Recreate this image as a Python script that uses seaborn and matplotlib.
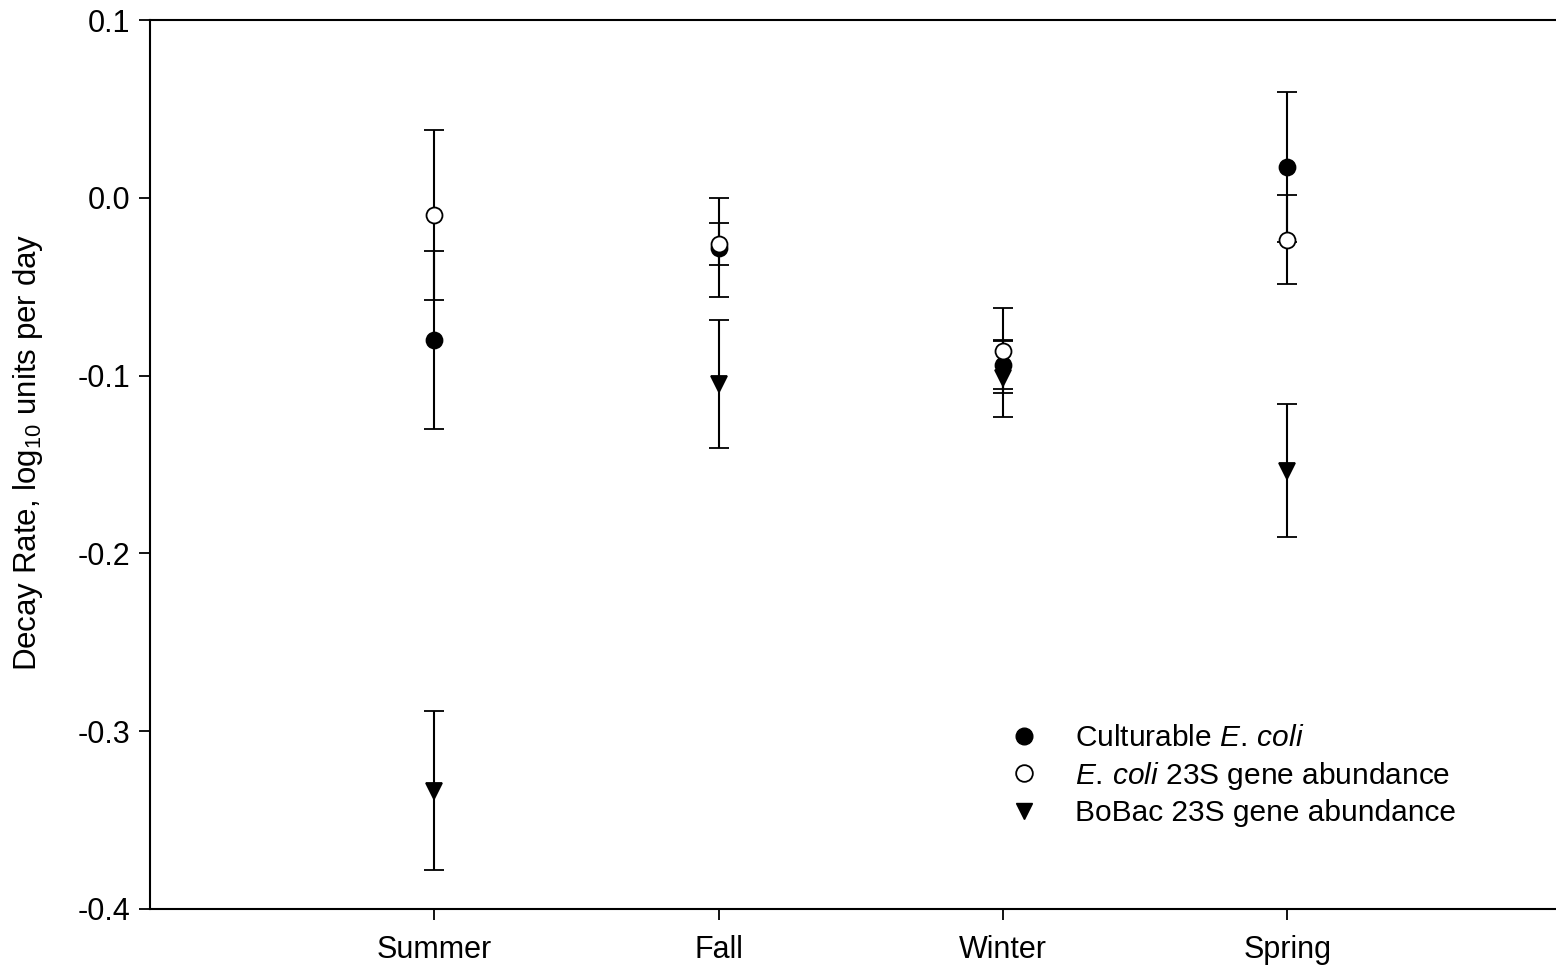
import numpy as np
import pandas as pd
import matplotlib
matplotlib.use("Agg")
import matplotlib.pyplot as plt
from matplotlib.lines import Line2D
import seaborn as sns

# Dados (taxa de decaimento, log10 por dia)
estacoes = ["Summer", "Fall", "Winter", "Spring"]

culturable = [-0.080, -0.028, -0.094, 0.0173]
culturable_err = [0.050, 0.028, 0.0135, 0.042]

ecoli_23s = [-0.0096, -0.026, -0.086, -0.0236]
ecoli_23s_err = [0.048, 0.012, 0.024, 0.025]

bobac_23s = [-0.3335, -0.1045, -0.1015, -0.1535]
bobac_23s_err = [0.0447, 0.036, 0.0218, 0.0374]

sns.set_style("ticks")
plt.rcParams["font.family"] = ["Liberation Sans", "DejaVu Sans"]
plt.rcParams["mathtext.fontset"] = "custom"
plt.rcParams["mathtext.rm"] = "Liberation Sans"
plt.rcParams["mathtext.it"] = "Liberation Sans:italic"
plt.rcParams["axes.unicode_minus"] = False
plt.rcParams["text.color"] = "black"
plt.rcParams["axes.labelcolor"] = "black"

fig = plt.figure(figsize=(15.56, 9.69), dpi=100)
ax = fig.add_axes([150 / 1556, 1 - 909 / 969, 1 - 150 / 1556, (909 - 20) / 969])

x = np.arange(1, len(estacoes) + 1)

series = [
    (culturable, culturable_err, "o", "black", r"Culturable $\mathit{E.\,coli}$"),
    (ecoli_23s, ecoli_23s_err, "o", "white", r"$\mathit{E.\,coli}$ 23S gene abundance"),
    (bobac_23s, bobac_23s_err, "v", "black", "BoBac 23S gene abundance"),
]

for vals, errs, mk, face, label in series:
    ax.errorbar(x, vals, yerr=errs, fmt=mk, ms=11.5, mfc=face, mec="black",
                mew=1.3, ecolor="black", elinewidth=1.5, capsize=7, capthick=1.5,
                label=label)

ax.set_xlim(0, 4.945)
ax.set_ylim(-0.4, 0.1)
ax.set_xticks(x)
ax.set_xticklabels(estacoes)
yt = [-0.4, -0.3, -0.2, -0.1, 0.0, 0.1]
ax.set_yticks(yt)
ax.set_yticklabels(["%.1f" % v for v in yt])
ax.tick_params(axis="both", labelsize=22, length=8, width=1.3, direction="out",
               colors="black", pad=11)
ax.tick_params(axis="y", pad=6)

ax.set_ylabel(r"Decay Rate, log$_{10}$ units per day", fontsize=22.5)
ax.yaxis.set_label_coords(-0.075, 0.5135)

sns.despine(ax=ax, top=False, right=True)
for s in ["left", "bottom", "top"]:
    ax.spines[s].set_linewidth(1.5)
    ax.spines[s].set_color("black")

handles, labels = ax.get_legend_handles_labels()
leg_handles = [
    Line2D([], [], ls="none", marker="o", ms=12, mfc="black", mec="black"),
    Line2D([], [], ls="none", marker="o", ms=12, mfc="white", mec="black", mew=1.3),
    Line2D([], [], ls="none", marker="v", ms=12, mfc="black", mec="black"),
]
ax.legend(leg_handles, labels, loc="upper left", bbox_to_anchor=(0.592, 0.2214),
          frameon=False, fontsize=21.5, handletextpad=0.7, labelspacing=0.25,
          borderaxespad=0)

fig.savefig("out.png", dpi=100)
